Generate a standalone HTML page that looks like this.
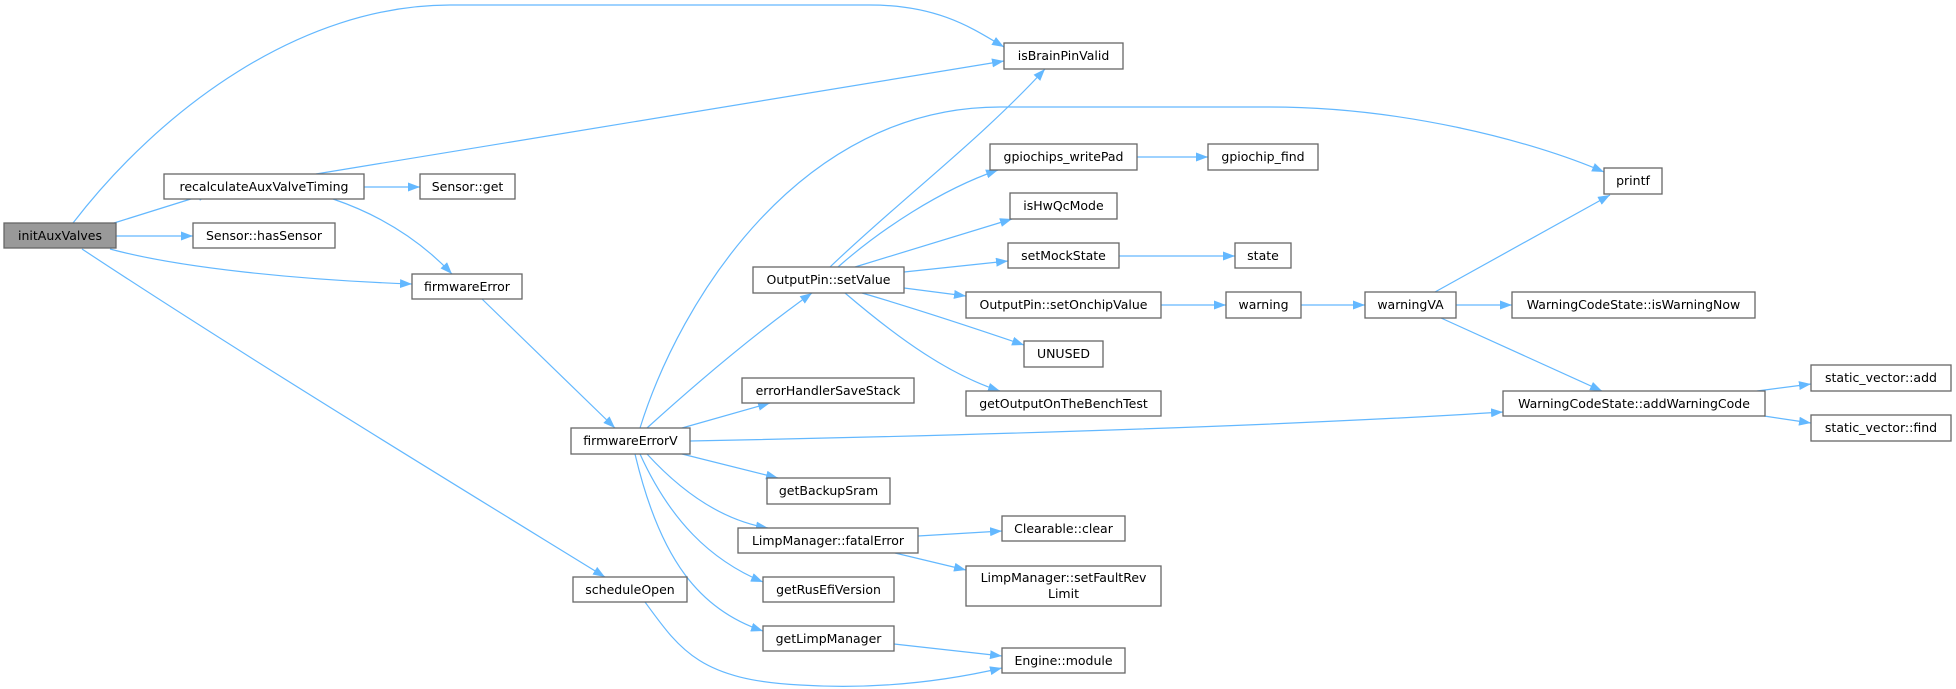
<!DOCTYPE html>
<html><head><meta charset="utf-8"><style>
html,body{margin:0;padding:0;background:#fff;}
svg{display:block;}
text{font-family:"DejaVu Sans","Liberation Sans",sans-serif;font-size:12.5px;fill:#000;}
.n{fill:#fff;stroke:#666;stroke-width:1.3;}
.e{fill:none;stroke:#63b8ff;stroke-width:1.2;}
</style></head><body>
<svg width="1956" height="689" viewBox="0 0 1956 689" xmlns="http://www.w3.org/2000/svg">
<defs><marker id="a" markerWidth="12" markerHeight="9" refX="12" refY="4.5" orient="auto" markerUnits="userSpaceOnUse"><path d="M0,0 L12,4.5 L0,9 Z" fill="#63b8ff"/></marker></defs>
<g class="e" marker-end="url(#a)">
<path d="M73,223 C160,110 300,5 450,5 L870,5 C940,5 975,30 1004,47"/>
<path d="M316,174 L1004,61"/>
<path d="M114,223 L210,193"/>
<path d="M116,236 L193,236"/>
<path d="M110,249 C180,268 300,280 412,284"/>
<path d="M82,249 C250,360 480,500 605,577"/>
<path d="M364,187 L420,187"/>
<path d="M333,199 C380,215 420,240 452,274"/>
<path d="M482,299 L615,428"/>
<path d="M647,428 C700,380 760,330 812,293"/>
<path d="M640,428 C680,300 800,107 1000,107 L1270,107 C1400,107 1530,140 1604,172"/>
<path d="M682,428 L770,403"/>
<path d="M690,441 C1000,435 1300,425 1503,412"/>
<path d="M682,454 L778,478"/>
<path d="M647,454 C680,490 720,520 768,528"/>
<path d="M640,454 C670,520 710,560 763,582"/>
<path d="M635,454 C660,560 700,610 763,631"/>
<path d="M645,602 C680,650 700,680 800,685 C880,690 950,680 1002,668"/>
<path d="M894,644 L1002,656"/>
<path d="M918,536 L1002,531"/>
<path d="M895,553 L966,570"/>
<path d="M830,267 C900,200 980,140 1045,69"/>
<path d="M838,267 C880,230 940,190 998,170"/>
<path d="M855,267 L1012,219"/>
<path d="M904,272 L1008,261"/>
<path d="M904,288 L966,296"/>
<path d="M862,293 C920,310 980,330 1024,345"/>
<path d="M845,293 C900,340 950,375 1000,391"/>
<path d="M1137,157 L1208,157"/>
<path d="M1119,256 L1235,256"/>
<path d="M1161,305 L1226,305"/>
<path d="M1301,305 L1365,305"/>
<path d="M1456,305 L1512,305"/>
<path d="M1435,292 L1610,195"/>
<path d="M1441,318 L1602,391"/>
<path d="M1757,391 L1811,384"/>
<path d="M1764,416 L1811,423"/>
</g>
<g>
<rect x="4" y="223" width="112" height="25" fill="#999" stroke="#666" stroke-width="1.3"/><text x="60" y="240" text-anchor="middle">initAuxValves</text>
<rect class="n" x="164" y="174" width="200" height="25"/><text x="264" y="191" text-anchor="middle">recalculateAuxValveTiming</text>
<rect class="n" x="420" y="174" width="95" height="25"/><text x="467.5" y="191" text-anchor="middle">Sensor::get</text>
<rect class="n" x="193" y="223" width="142" height="25"/><text x="264" y="240" text-anchor="middle">Sensor::hasSensor</text>
<rect class="n" x="412" y="274" width="110" height="25"/><text x="467" y="291" text-anchor="middle">firmwareError</text>
<rect class="n" x="1004" y="43" width="119" height="26"/><text x="1063.5" y="60" text-anchor="middle">isBrainPinValid</text>
<rect class="n" x="571" y="428" width="119" height="26"/><text x="630.5" y="445" text-anchor="middle">firmwareErrorV</text>
<rect class="n" x="573" y="577" width="114" height="25"/><text x="630" y="594" text-anchor="middle">scheduleOpen</text>
<rect class="n" x="753" y="267" width="151" height="26"/><text x="828.5" y="284" text-anchor="middle">OutputPin::setValue</text>
<rect class="n" x="742" y="378" width="172" height="25"/><text x="828" y="395" text-anchor="middle">errorHandlerSaveStack</text>
<rect class="n" x="767" y="478" width="123" height="26"/><text x="828.5" y="495" text-anchor="middle">getBackupSram</text>
<rect class="n" x="738" y="528" width="180" height="25"/><text x="828" y="545" text-anchor="middle">LimpManager::fatalError</text>
<rect class="n" x="763" y="577" width="131" height="25"/><text x="828.5" y="594" text-anchor="middle">getRusEfiVersion</text>
<rect class="n" x="763" y="626" width="131" height="25"/><text x="828.5" y="643" text-anchor="middle">getLimpManager</text>
<rect class="n" x="1024" y="341" width="79" height="26"/><text x="1063.5" y="358" text-anchor="middle">UNUSED</text>
<rect class="n" x="966" y="391" width="195" height="25"/><text x="1063.5" y="408" text-anchor="middle">getOutputOnTheBenchTest</text>
<rect class="n" x="1002" y="516" width="123" height="25"/><text x="1063.5" y="533" text-anchor="middle">Clearable::clear</text>
<rect class="n" x="966" y="566" width="195" height="40"/><text x="1063.5" y="582" text-anchor="middle">LimpManager::setFaultRev</text><text x="1063.5" y="598" text-anchor="middle">Limit</text>
<rect class="n" x="1002" y="648" width="123" height="25"/><text x="1063.5" y="665" text-anchor="middle">Engine::module</text>
<rect class="n" x="990" y="144" width="147" height="26"/><text x="1063.5" y="161" text-anchor="middle">gpiochips_writePad</text>
<rect class="n" x="1208" y="144" width="110" height="26"/><text x="1263" y="161" text-anchor="middle">gpiochip_find</text>
<rect class="n" x="1604" y="168" width="58" height="26"/><text x="1633" y="185" text-anchor="middle">printf</text>
<rect class="n" x="1010" y="193" width="107" height="26"/><text x="1063.5" y="210" text-anchor="middle">isHwQcMode</text>
<rect class="n" x="1008" y="243" width="111" height="25"/><text x="1063.5" y="260" text-anchor="middle">setMockState</text>
<rect class="n" x="1235" y="243" width="56" height="25"/><text x="1263" y="260" text-anchor="middle">state</text>
<rect class="n" x="966" y="292" width="195" height="26"/><text x="1063.5" y="309" text-anchor="middle">OutputPin::setOnchipValue</text>
<rect class="n" x="1226" y="292" width="75" height="26"/><text x="1263.5" y="309" text-anchor="middle">warning</text>
<rect class="n" x="1365" y="292" width="91" height="26"/><text x="1410.5" y="309" text-anchor="middle">warningVA</text>
<rect class="n" x="1512" y="292" width="243" height="26"/><text x="1633.5" y="309" text-anchor="middle">WarningCodeState::isWarningNow</text>
<rect class="n" x="1503" y="391" width="262" height="25"/><text x="1634" y="408" text-anchor="middle">WarningCodeState::addWarningCode</text>
<rect class="n" x="1811" y="365" width="140" height="26"/><text x="1881" y="382" text-anchor="middle">static_vector::add</text>
<rect class="n" x="1811" y="415" width="140" height="26"/><text x="1881" y="432" text-anchor="middle">static_vector::find</text>
</g>
</svg>
</body></html>
